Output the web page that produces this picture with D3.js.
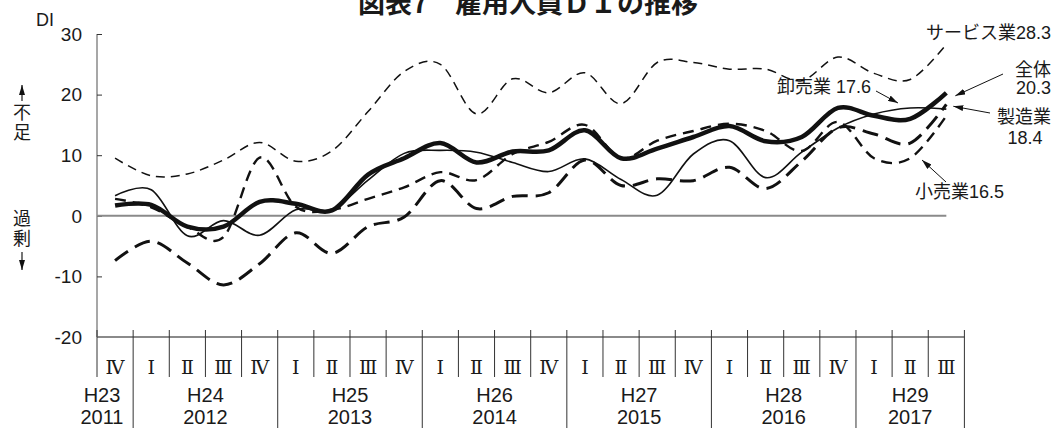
<!DOCTYPE html>
<html>
<head>
<meta charset="utf-8">
<script src="https://cdn.jsdelivr.net/npm/d3@7"></script>
<style>
  html, body { margin: 0; padding: 0; background: #fff; }
  svg { display: block; }
  text { font-family: "Liberation Sans", "Noto Sans CJK JP", sans-serif; fill: #1a1a1a; }
</style>
</head>
<body>
<svg id="chart" width="1056" height="428"></svg>
<script>
// Quarter labels (2011 IV .. 2017 III)
const quarters = ["Ⅳ","Ⅰ","Ⅱ","Ⅲ","Ⅳ","Ⅰ","Ⅱ","Ⅲ","Ⅳ","Ⅰ","Ⅱ","Ⅲ","Ⅳ","Ⅰ","Ⅱ","Ⅲ","Ⅳ","Ⅰ","Ⅱ","Ⅲ","Ⅳ","Ⅰ","Ⅱ","Ⅲ"];
const eraLabels = ["H23","H24","H25","H26","H27","H28","H29"];
const yearLabels = ["2011","2012","2013","2014","2015","2016","2017"];
const quartersPerYear = [1,4,4,4,4,4,3];
const yTicks = [30,20,10,0,-10,-20];

// 雇用人員DI by industry
const overall       = [1.7,1.8,-1.8,-1.8,2.3,2.0,0.9,6.8,9.5,12.0,8.8,10.6,10.8,14.1,9.5,11.1,13.0,14.8,12.3,13.0,17.8,16.5,16.0,20.3];
const manufacturing = [-7.4,-4.2,-7.8,-11.4,-7.9,-2.8,-6.2,-1.8,-0.2,5.8,1.2,3.2,3.8,9.2,5.0,6.1,5.8,8.0,4.5,9.0,14.5,13.5,12.0,18.4];
const wholesale     = [3.3,4.3,-3.3,-0.8,-3.2,1.0,1.0,5.9,10.3,10.8,10.5,8.8,7.3,9.4,6.0,3.4,10.2,12.4,6.3,10.5,14.5,16.8,17.8,17.6];
const retail        = [2.8,1.4,-1.8,-3.5,9.6,1.5,1.0,2.8,4.7,7.2,5.9,10.2,12.2,15.0,9.5,12.4,14.0,15.2,14.0,10.7,15.5,9.5,9.5,16.5];
const services      = [9.5,6.6,6.9,9.2,12.1,9.0,10.7,17.2,23.8,25.0,16.8,22.6,20.3,23.6,18.5,25.3,25.3,24.2,24.2,22.3,26.2,23.5,22.5,28.3];

const svg = d3.select("#chart");
const plotLeft = 97, plotRight = 964.4, plotTop = 34, plotBottom = 337;

const x = d3.scaleBand().domain(d3.range(quarters.length)).range([plotLeft, plotRight]).paddingInner(0).paddingOuter(0);
const cx = i => x(i) + x.bandwidth() / 2;
const y = d3.scaleLinear().domain([-20, 30]).range([plotBottom, plotTop]);

const defs = svg.append("defs");
// Arrow marker shared by the captions and the callouts
defs.append("marker")
  .attr("id", "arrow").attr("viewBox", "0 0 10 6")
  .attr("refX", 10).attr("refY", 3)
  .attr("markerWidth", 10).attr("markerHeight", 6)
  .attr("markerUnits", "userSpaceOnUse")
  .attr("orient", "auto")
  .append("path").attr("d", "M0,0 L10,3 L0,6 Z").attr("fill", "#111");

// Title (runs off the top edge)
svg.append("text")
  .attr("x", 528).attr("y", 13)
  .attr("text-anchor", "middle")
  .style("font-family", "'Noto Sans CJK JP', sans-serif")
  .style("font-weight", "bold")
  .style("font-size", "27px")
  .text("図表7　雇用人員ＤＩの推移");

// Y axis line and ticks (ticks point into the plot)
const axisCol = "#8a8a8a";
svg.append("line").attr("x1", plotLeft).attr("x2", plotLeft).attr("y1", y(30)).attr("y2", plotBottom)
  .attr("stroke", axisCol).attr("stroke-width", 1.5);
const yAxis = d3.axisRight(y).tickValues(yTicks).tickSize(5).tickFormat("");
const gy = svg.append("g").attr("transform", `translate(${plotLeft},0)`).call(yAxis);
gy.select(".domain").remove();
gy.selectAll(".tick line").attr("stroke", "#333").attr("stroke-width", 1);

svg.append("g").selectAll("text").data(yTicks).join("text")
  .attr("x", 82).attr("y", d => y(d)).attr("dy", "0.36em")
  .attr("text-anchor", "end").style("font-size", "19px").text(d => d);

svg.append("text").attr("x", 36).attr("y", 26).style("font-size", "18px").text("DI");

// Side captions: vertical text with arrows
function vertical(t, yTop) {
  svg.append("text").attr("x", 22).attr("y", yTop)
    .style("writing-mode", "vertical-rl")
    .style("font-family", "'Noto Sans CJK JP', sans-serif")
    .style("font-size", "18px")
    .style("letter-spacing", "2px")
    .text(t);
}
function sideArrow(y1, y2) {
  svg.append("line").attr("x1", 22).attr("x2", 22).attr("y1", y1).attr("y2", y2)
    .attr("stroke", "#1a1a1a").attr("stroke-width", 1.2).attr("marker-end", "url(#arrow)");
}
sideArrow(101, 85);
vertical("不足", 103);
vertical("過剰", 209);
sideArrow(252, 270);

// Zero line
svg.append("line").attr("x1", plotLeft).attr("x2", cx(quarters.length - 1))
  .attr("y1", y(0)).attr("y2", y(0)).attr("stroke", axisCol).attr("stroke-width", 2);

// Bottom axis line
svg.append("line").attr("x1", plotLeft).attr("x2", plotRight).attr("y1", plotBottom).attr("y2", plotBottom)
  .attr("stroke", axisCol).attr("stroke-width", 2);

// Quarter dividers and labels
const divCol = "#333";
const bounds = d3.range(quarters.length + 1).map(i => i < quarters.length ? x(i) : plotRight);
const yearStarts = [];
let acc = 0;
quartersPerYear.forEach(n => { yearStarts.push(acc); acc += n; });
bounds.forEach((bx, i) => {
  const isYear = (yearStarts.includes(i) && i > 0) || i === quarters.length;
  svg.append("line").attr("x1", bx).attr("x2", bx)
    .attr("y1", plotBottom - 7).attr("y2", isYear ? 428 : 377)
    .attr("stroke", divCol).attr("stroke-width", 1);
});
svg.append("g").selectAll("text").data(quarters).join("text")
  .attr("x", (d, i) => cx(i)).attr("y", 374)
  .attr("text-anchor", "middle")
  .style("font-family", "'DejaVu Serif', 'Liberation Serif', serif")
  .style("font-size", "19px")
  .text(d => d);

// Year labels
quartersPerYear.forEach((n, k) => {
  const s = yearStarts[k];
  let mx = (x(s) + (s + n < quarters.length ? x(s + n) : plotRight)) / 2;
  if (n === 1) mx = 102;
  svg.append("text").attr("x", mx).attr("y", 402).attr("text-anchor", "middle")
    .style("font-size", "20px").text(eraLabels[k]);
  svg.append("text").attr("x", mx).attr("y", 424).attr("text-anchor", "middle")
    .style("font-size", "20px").text(yearLabels[k]);
});

// Series
const line = d3.line().x((d, i) => cx(i)).y(d => y(d)).curve(d3.curveCatmullRom.alpha(0));
const series = [
  { values: services,      width: 1.5, dash: "9,6" },
  { values: manufacturing, width: 3,   dash: "16,8" },
  { values: retail,        width: 2.4, dash: "11,7" },
  { values: wholesale,     width: 1.6, dash: null },
  { values: overall,       width: 4.5, dash: null }
];
series.forEach(s => {
  svg.append("path").datum(s.values)
    .attr("d", line)
    .attr("fill", "none")
    .attr("stroke", "#111")
    .attr("stroke-width", s.width)
    .attr("stroke-dasharray", s.dash)
    .attr("stroke-linejoin", "round");
});

function arrow(x1, y1, x2, y2) {
  svg.append("line").attr("x1", x1).attr("y1", y1).attr("x2", x2).attr("y2", y2)
    .attr("stroke", "#111").attr("stroke-width", 1).attr("marker-end", "url(#arrow)");
}
function label(t, xx, yy, anchor) {
  svg.append("text").attr("x", xx).attr("y", yy).attr("text-anchor", anchor || "start")
    .style("font-size", "18px").text(t);
}

const last = quarters.length - 1;
label("サービス業28.3", 1051, 39, "end");
label("全体", 1051, 76, "end");
label("20.3", 1051, 94, "end");
arrow(1003, 74, cx(last) + 9, y(20.3) + 3);
label("製造業", 1051, 123, "end");
label("18.4", 1025, 144, "middle");
arrow(990, 113, cx(last) + 7, y(18.4) + 2);
label("卸売業 17.6", 777, 93, "start");
arrow(876, 91, 898, 103);
label("小売業16.5", 915, 198, "start");
arrow(946, 182, 922, 160);
</script>
</body>
</html>
